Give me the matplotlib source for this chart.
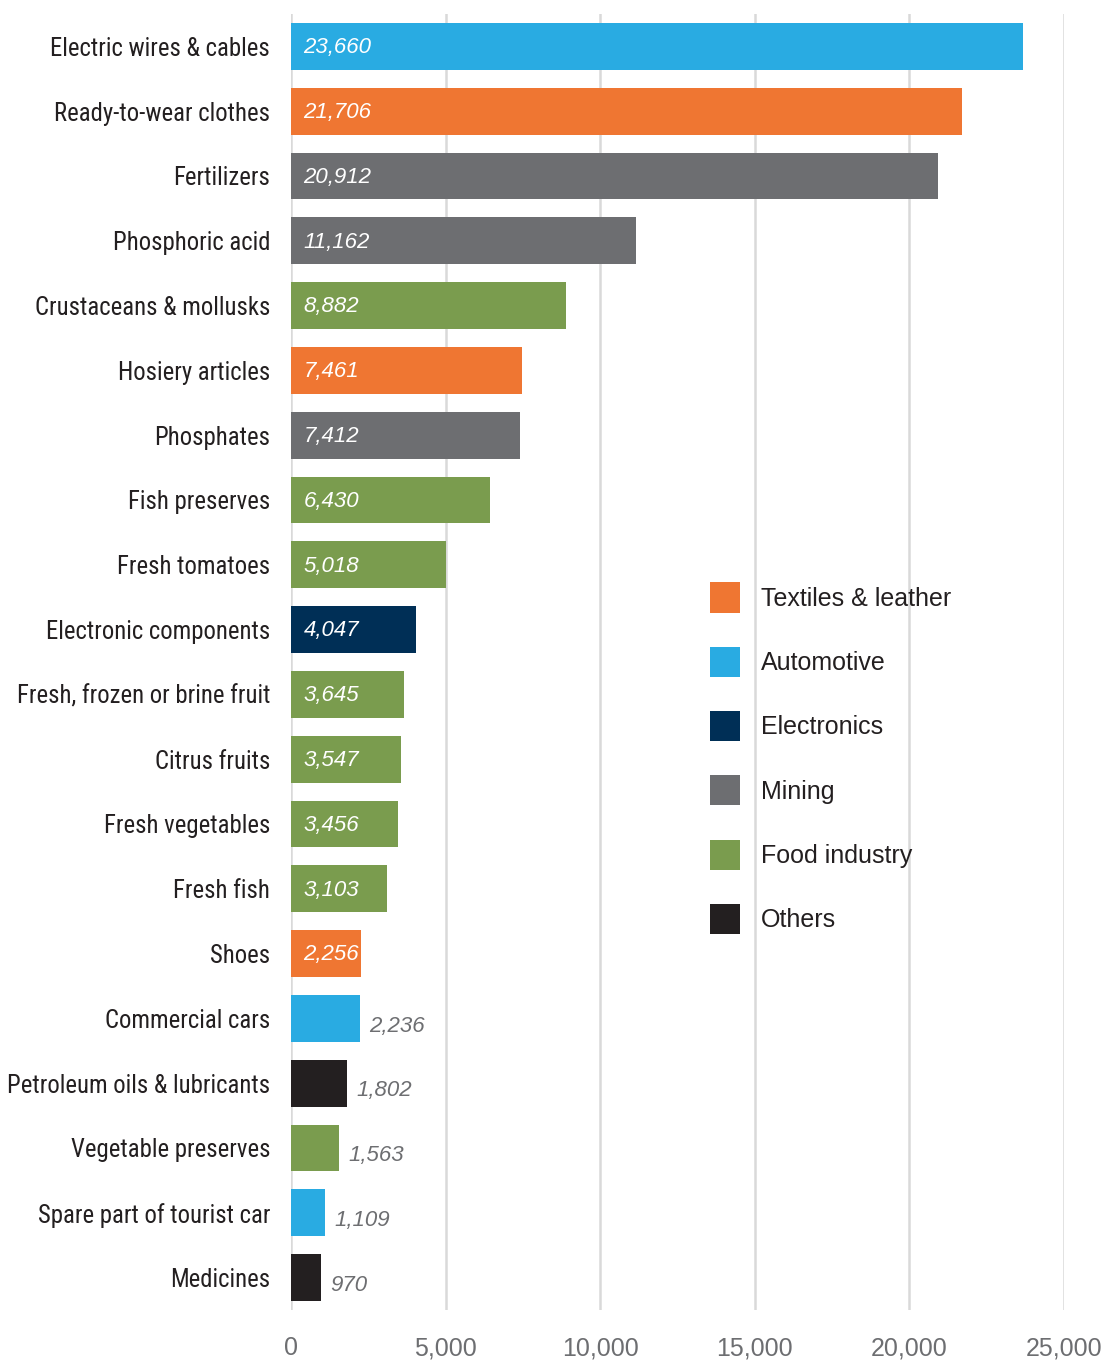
import matplotlib
matplotlib.use("Agg")
import matplotlib.pyplot as plt
from matplotlib import font_manager
from matplotlib.patches import Patch

products = [
    "Electric wires & cables", "Ready-to-wear clothes", "Fertilizers",
    "Phosphoric acid", "Crustaceans & mollusks", "Hosiery articles",
    "Phosphates", "Fish preserves", "Fresh tomatoes", "Electronic components",
    "Fresh, frozen or brine fruit", "Citrus fruits", "Fresh vegetables",
    "Fresh fish", "Shoes", "Commercial cars", "Petroleum oils & lubricants",
    "Vegetable preserves", "Spare part of tourist car", "Medicines",
]
values = [23660, 21706, 20912, 11162, 8882, 7461, 7412, 6430, 5018, 4047,
          3645, 3547, 3456, 3103, 2256, 2236, 1802, 1563, 1109, 970]
sectors = [
    "Automotive", "Textiles & leather", "Mining", "Mining", "Food industry",
    "Textiles & leather", "Mining", "Food industry", "Food industry",
    "Electronics", "Food industry", "Food industry", "Food industry",
    "Food industry", "Textiles & leather", "Automotive", "Others",
    "Food industry", "Automotive", "Others",
]
legend_order = ["Textiles & leather", "Automotive", "Electronics",
                "Mining", "Food industry", "Others"]
x_ticks = [0, 5000, 10000, 15000, 20000, 25000]

palette = {
    "Textiles & leather": "#ef7632",
    "Automotive": "#29abe2",
    "Electronics": "#002f56",
    "Mining": "#6d6e71",
    "Food industry": "#7a9c4e",
    "Others": "#231f20",
}

# pick a narrow face for the category labels if one is installed
installed = {f.name for f in font_manager.fontManager.ttflist}
narrow_choice = None
for name in ["Liberation Sans Narrow", "Roboto Condensed", "Open Sans Condensed",
             "DejaVu Sans Condensed"]:
    if name in installed:
        narrow_choice = name
        break
if narrow_choice is None:
    narrow_choice = "DejaVu Sans"
    narrow_stretch = "condensed"
    label_size = 16
else:
    narrow_stretch = "normal"
    label_size = 18 if "Narrow" in narrow_choice else 17.8

label_font = [narrow_choice, "DejaVu Sans"]
body_font = ["Liberation Sans", "DejaVu Sans"]
text_dark = "#231f20"
text_gray = "#6d6e71"

W, H = 1103, 1361
fig = plt.figure(figsize=(W / 100, H / 100), dpi=100)
ax = fig.add_axes([291 / W, (H - 1310) / H, (1064 - 291) / W, (1310 - 14) / H])

ypos = list(range(len(products)))
ax.barh(ypos, values, height=0.725,
        color=[palette[s] for s in sectors], zorder=2)

ax.set_xlim(0, 25000)
ax.set_ylim(len(products) - 0.5, -0.5)
ax.set_xticks(x_ticks)
ax.set_xticklabels([f"{t:,}" for t in x_ticks], fontsize=18,
                   color=text_gray, family=body_font)
ax.set_yticks(ypos)
ax.set_yticklabels(products, fontsize=label_size, color=text_dark,
                   family=label_font, fontstretch=narrow_stretch)
ax.tick_params(axis="both", length=0)
ax.tick_params(axis="y", pad=15)
ax.tick_params(axis="x", pad=19)
ax.grid(axis="x", color="#d9d9d9", linewidth=1.8, zorder=0)
for s in ax.spines.values():
    s.set_visible(False)

# value labels: white inside long bars, gray beside short bars
for y, v in zip(ypos, values):
    if v >= 2250:
        ax.text(400, y + 0.02, f"{v:,}", va="center", ha="left", fontsize=16,
                style="italic", color="white", family=body_font, zorder=3)
    else:
        ax.text(v + 300, y + 0.12, f"{v:,}", va="center", ha="left",
                fontsize=16, style="italic", color=text_gray,
                family=body_font, zorder=3)

handles = [Patch(facecolor=palette[k], edgecolor="none") for k in legend_order]
leg = ax.legend(handles, legend_order, loc="upper left",
                bbox_to_anchor=(692 / W, (H - 565) / H),
                bbox_transform=fig.transFigure, frameon=False,
                prop={"family": body_font, "size": 18},
                handlelength=1.2, handleheight=1.47, handletextpad=0.85,
                labelspacing=1.37, borderpad=0.2)
for t in leg.get_texts():
    t.set_color(text_dark)

fig.savefig("out.png", dpi=100, facecolor="white")
